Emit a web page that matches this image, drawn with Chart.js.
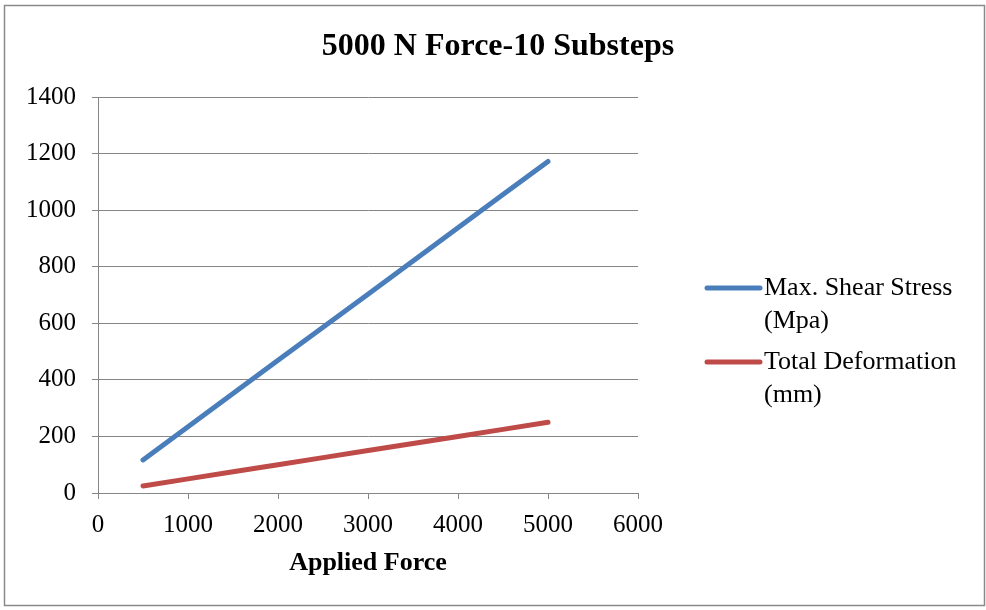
<!DOCTYPE html>
<html>
<head>
<meta charset="utf-8">
<script src="https://cdn.jsdelivr.net/npm/chart.js@4.4.1/dist/chart.umd.min.js"></script>
<style>
  html, body { margin: 0; padding: 0; background: #ffffff; }
  #wrap { position: relative; width: 986px; height: 610px; }
</style>
</head>
<body>
<div id="wrap"><canvas id="c" width="986" height="610"></canvas></div>
<script>
// Applied force steps (N)
const appliedForce = [500, 1000, 1500, 2000, 2500, 3000, 3500, 4000, 4500, 5000];
// Max. shear stress (MPa) at each step
const shearStress = [117, 234, 352, 469, 586, 703, 820, 938, 1055, 1172];
// Total deformation (mm) at each step
const deformation = [25, 50, 75, 100, 125, 150, 175, 200, 225, 250];
const seriesNames = [['Max. Shear Stress', '(Mpa)'], ['Total Deformation', '(mm)']];
const chartTitle = '5000 N Force-10 Substeps';
const xTitle = 'Applied Force';

const SERIF = '"Liberation Serif", "Times New Roman", serif';
const GRID = '#868686';

function toPoints(xs, ys) { return xs.map((x, i) => ({ x: x, y: ys[i] })); }

// Frame, title, x-axis title and two-line legend drawn on the canvas
const decorations = {
  id: 'decorations',
  beforeDraw(chart) {
    const ctx = chart.ctx;
    ctx.save();
    ctx.fillStyle = '#ffffff';
    ctx.fillRect(0, 0, chart.width, chart.height);
    ctx.restore();
  },
  afterDraw(chart) {
    const ctx = chart.ctx;
    const area = chart.chartArea;
    ctx.save();
    ctx.strokeStyle = '#8a8a8a';
    ctx.lineWidth = 1.5;
    ctx.strokeRect(4.5, 5.5, 980, 600);

    ctx.fillStyle = '#000000';
    ctx.textAlign = 'center';
    ctx.textBaseline = 'middle';
    ctx.font = 'bold 32px ' + SERIF;
    ctx.fillText(chartTitle, 498, 47);

    ctx.font = 'bold 26px ' + SERIF;
    ctx.fillText(xTitle, (area.left + area.right) / 2, 563);

    // legend
    const rows = [288, 362];
    chart.data.datasets.forEach((ds, i) => {
      const y = rows[i];
      ctx.strokeStyle = ds.borderColor;
      ctx.lineWidth = 5;
      ctx.lineCap = 'round';
      ctx.beginPath();
      ctx.moveTo(707, y);
      ctx.lineTo(760, y);
      ctx.stroke();
      ctx.fillStyle = '#000000';
      ctx.textAlign = 'left';
      ctx.font = '26px ' + SERIF;
      seriesNames[i].forEach((line, j) => ctx.fillText(line, 764, y + j * 33));
    });
    ctx.restore();
  }
};

const plainNumber = (v) => String(v);

new Chart(document.getElementById('c'), {
  type: 'scatter',
  data: {
    datasets: [
      {
        label: seriesNames[0].join(' '),
        data: toPoints(appliedForce, shearStress),
        showLine: true,
        borderColor: '#4A7EBB',
        backgroundColor: '#4A7EBB',
        borderWidth: 5,
        borderCapStyle: 'round',
        pointRadius: 0,
        tension: 0
      },
      {
        label: seriesNames[1].join(' '),
        data: toPoints(appliedForce, deformation),
        showLine: true,
        borderColor: '#BE4B48',
        backgroundColor: '#BE4B48',
        borderWidth: 5,
        borderCapStyle: 'round',
        pointRadius: 0,
        tension: 0
      }
    ]
  },
  options: {
    responsive: false,
    animation: false,
    devicePixelRatio: 1,
    layout: { padding: { left: 0, top: 97, right: 348, bottom: 0 } },
    plugins: {
      legend: { display: false },
      title: { display: false },
      tooltip: { enabled: false }
    },
    scales: {
      x: {
        type: 'linear',
        min: 0,
        max: 6000,
        ticks: {
          stepSize: 1000,
          color: '#000000',
          font: { family: SERIF, size: 25 },
          padding: 11,
          maxRotation: 0,
          callback: plainNumber
        },
        grid: {
          drawOnChartArea: false,
          drawTicks: true,
          tickLength: 6,
          color: GRID,
          lineWidth: 1
        },
        border: { display: true, color: GRID, width: 1 },
        afterFit(scale) { scale.height = 117; }
      },
      y: {
        type: 'linear',
        min: 0,
        max: 1400,
        ticks: {
          stepSize: 200,
          color: '#000000',
          font: { family: SERIF, size: 25 },
          padding: 16,
          callback: plainNumber
        },
        grid: {
          drawOnChartArea: true,
          drawTicks: true,
          tickLength: 6,
          color: GRID,
          lineWidth: 1
        },
        border: { display: true, color: GRID, width: 1 },
        afterFit(scale) { scale.width = 98; }
      }
    }
  },
  plugins: [decorations]
});
</script>
</body>
</html>
